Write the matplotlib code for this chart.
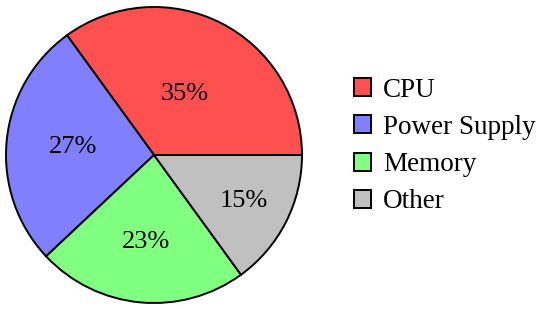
import numpy as np
import matplotlib.pyplot as plt

labels = ['CPU', 'Power Supply', 'Memory', 'Other']
shares = [35, 27, 23, 15]
colors = ['#ff5050', '#8080ff', '#80ff80', '#c0c0c0']
label_radius = [0.46, 0.55, 0.59, 0.68]

plt.rcParams['font.family'] = ['Liberation Serif', 'DejaVu Serif']

fig = plt.figure(figsize=(5.5, 3.1), dpi=100)
ax = fig.add_axes([0, 0, 310 / 550, 1])

wedges, _ = ax.pie(shares, colors=colors, startangle=0, counterclock=True,
                   radius=1.0,
                   wedgeprops=dict(edgecolor='black', linewidth=1.4))

for w, s, r in zip(wedges, shares, label_radius):
    mid = np.deg2rad((w.theta1 + w.theta2) / 2)
    ax.text(r * np.cos(mid), r * np.sin(mid), f'{s}%',
            ha='center', va='center', fontsize=19)

R = 148
ax.set_xlim(-154 / R, (310 - 154) / R)
ax.set_ylim(-155 / R, 155 / R)
ax.set_aspect('equal')
ax.axis('off')

fig.legend(wedges, labels, loc='center left', bbox_to_anchor=(340 / 550, 1 - 146 / 310),
           frameon=False, fontsize=19.5, handlelength=0.65, handleheight=0.65,
           handletextpad=0.45, labelspacing=0.45, borderpad=0)

fig.savefig('out.png', dpi=100)
